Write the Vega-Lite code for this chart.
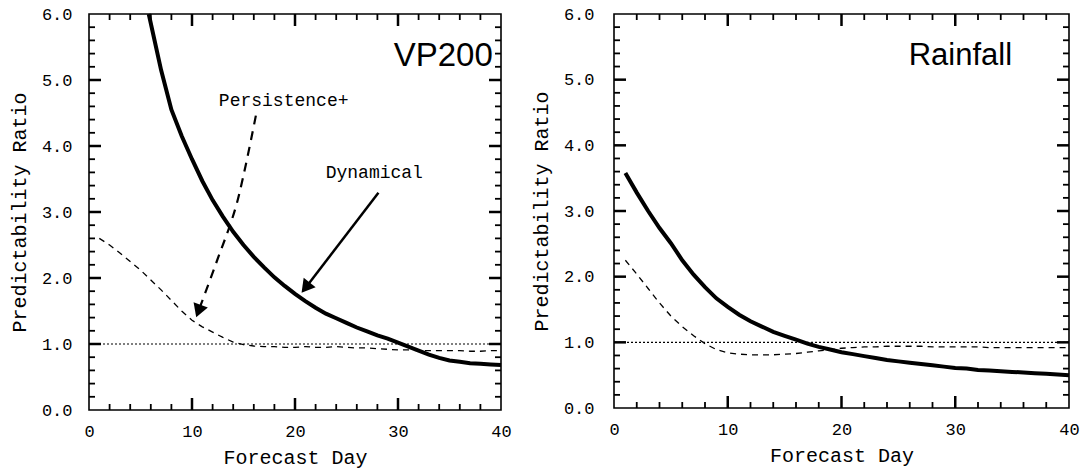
{
  "$schema": "https://vega.github.io/schema/vega-lite/v6.json",
  "background": "white",
  "padding": {"left": 8, "top": 4, "right": 4, "bottom": 2},
  "spacing": 113,
  "bounds": "flush",
  "config": {
    "view": {"stroke": "black", "strokeWidth": 1.6},
    "axis": {
      "grid": false, "domain": false, "ticks": false, "tickSize": 0, "offset": 0,
      "labelColor": "black", "titleColor": "black",
      "labelFont": "Liberation Mono", "titleFont": "Liberation Mono",
      "labelFontSize": 17, "titleFontSize": 20, "titleFontWeight": "normal",
      "labelFlush": false, "labelOverlap": false
    }
  },
  "datasets": {
    "vp200": [
      {"series": "Dynamical", "day": 5.8, "value": 6.0},
      {"series": "Dynamical", "day": 7, "value": 5.15},
      {"series": "Dynamical", "day": 8, "value": 4.55},
      {"series": "Dynamical", "day": 9, "value": 4.15},
      {"series": "Dynamical", "day": 10, "value": 3.8},
      {"series": "Dynamical", "day": 11, "value": 3.47},
      {"series": "Dynamical", "day": 12, "value": 3.18},
      {"series": "Dynamical", "day": 13, "value": 2.93},
      {"series": "Dynamical", "day": 14, "value": 2.7},
      {"series": "Dynamical", "day": 15, "value": 2.5},
      {"series": "Dynamical", "day": 16, "value": 2.32},
      {"series": "Dynamical", "day": 17, "value": 2.16},
      {"series": "Dynamical", "day": 18, "value": 2.01},
      {"series": "Dynamical", "day": 19, "value": 1.88},
      {"series": "Dynamical", "day": 20, "value": 1.76},
      {"series": "Dynamical", "day": 21, "value": 1.65},
      {"series": "Dynamical", "day": 22, "value": 1.55},
      {"series": "Dynamical", "day": 23, "value": 1.46},
      {"series": "Dynamical", "day": 24, "value": 1.39},
      {"series": "Dynamical", "day": 25, "value": 1.32},
      {"series": "Dynamical", "day": 26, "value": 1.25},
      {"series": "Dynamical", "day": 27, "value": 1.19},
      {"series": "Dynamical", "day": 28, "value": 1.13},
      {"series": "Dynamical", "day": 29, "value": 1.08},
      {"series": "Dynamical", "day": 30, "value": 1.02},
      {"series": "Dynamical", "day": 31, "value": 0.96},
      {"series": "Dynamical", "day": 32, "value": 0.9},
      {"series": "Dynamical", "day": 33, "value": 0.84},
      {"series": "Dynamical", "day": 34, "value": 0.79},
      {"series": "Dynamical", "day": 35, "value": 0.75},
      {"series": "Dynamical", "day": 36, "value": 0.73},
      {"series": "Dynamical", "day": 37, "value": 0.71},
      {"series": "Dynamical", "day": 38, "value": 0.7},
      {"series": "Dynamical", "day": 39, "value": 0.69},
      {"series": "Dynamical", "day": 40, "value": 0.68},
      {"series": "Persistence", "day": 1, "value": 2.6},
      {"series": "Persistence", "day": 2, "value": 2.5},
      {"series": "Persistence", "day": 3, "value": 2.38},
      {"series": "Persistence", "day": 4, "value": 2.25},
      {"series": "Persistence", "day": 5, "value": 2.12},
      {"series": "Persistence", "day": 6, "value": 1.97},
      {"series": "Persistence", "day": 7, "value": 1.82},
      {"series": "Persistence", "day": 8, "value": 1.66},
      {"series": "Persistence", "day": 9, "value": 1.5},
      {"series": "Persistence", "day": 10, "value": 1.36},
      {"series": "Persistence", "day": 11, "value": 1.26},
      {"series": "Persistence", "day": 12, "value": 1.18},
      {"series": "Persistence", "day": 13, "value": 1.1},
      {"series": "Persistence", "day": 14, "value": 1.03},
      {"series": "Persistence", "day": 15, "value": 0.99},
      {"series": "Persistence", "day": 16, "value": 0.97},
      {"series": "Persistence", "day": 17, "value": 0.96},
      {"series": "Persistence", "day": 18, "value": 0.96},
      {"series": "Persistence", "day": 19, "value": 0.95},
      {"series": "Persistence", "day": 20, "value": 0.95},
      {"series": "Persistence", "day": 21, "value": 0.96},
      {"series": "Persistence", "day": 22, "value": 0.95},
      {"series": "Persistence", "day": 23, "value": 0.95},
      {"series": "Persistence", "day": 24, "value": 0.96},
      {"series": "Persistence", "day": 25, "value": 0.95},
      {"series": "Persistence", "day": 26, "value": 0.94},
      {"series": "Persistence", "day": 27, "value": 0.94},
      {"series": "Persistence", "day": 28, "value": 0.93},
      {"series": "Persistence", "day": 29, "value": 0.92},
      {"series": "Persistence", "day": 30, "value": 0.91},
      {"series": "Persistence", "day": 31, "value": 0.91},
      {"series": "Persistence", "day": 32, "value": 0.9},
      {"series": "Persistence", "day": 33, "value": 0.9},
      {"series": "Persistence", "day": 34, "value": 0.9},
      {"series": "Persistence", "day": 35, "value": 0.9},
      {"series": "Persistence", "day": 36, "value": 0.9},
      {"series": "Persistence", "day": 37, "value": 0.89},
      {"series": "Persistence", "day": 38, "value": 0.89},
      {"series": "Persistence", "day": 39, "value": 0.9},
      {"series": "Persistence", "day": 40, "value": 0.9}
    ],
    "rain": [
      {"series": "Dynamical", "day": 1, "value": 3.58},
      {"series": "Dynamical", "day": 2, "value": 3.28},
      {"series": "Dynamical", "day": 3, "value": 3.0},
      {"series": "Dynamical", "day": 4, "value": 2.74},
      {"series": "Dynamical", "day": 5, "value": 2.51},
      {"series": "Dynamical", "day": 6, "value": 2.25},
      {"series": "Dynamical", "day": 7, "value": 2.03},
      {"series": "Dynamical", "day": 8, "value": 1.84},
      {"series": "Dynamical", "day": 9, "value": 1.67},
      {"series": "Dynamical", "day": 10, "value": 1.54},
      {"series": "Dynamical", "day": 11, "value": 1.42},
      {"series": "Dynamical", "day": 12, "value": 1.32},
      {"series": "Dynamical", "day": 13, "value": 1.24},
      {"series": "Dynamical", "day": 14, "value": 1.16},
      {"series": "Dynamical", "day": 15, "value": 1.1},
      {"series": "Dynamical", "day": 16, "value": 1.04},
      {"series": "Dynamical", "day": 17, "value": 0.98},
      {"series": "Dynamical", "day": 18, "value": 0.93},
      {"series": "Dynamical", "day": 19, "value": 0.89},
      {"series": "Dynamical", "day": 20, "value": 0.85},
      {"series": "Dynamical", "day": 21, "value": 0.82},
      {"series": "Dynamical", "day": 22, "value": 0.79},
      {"series": "Dynamical", "day": 23, "value": 0.76},
      {"series": "Dynamical", "day": 24, "value": 0.73},
      {"series": "Dynamical", "day": 25, "value": 0.71},
      {"series": "Dynamical", "day": 26, "value": 0.69},
      {"series": "Dynamical", "day": 27, "value": 0.67},
      {"series": "Dynamical", "day": 28, "value": 0.65},
      {"series": "Dynamical", "day": 29, "value": 0.63},
      {"series": "Dynamical", "day": 30, "value": 0.61},
      {"series": "Dynamical", "day": 31, "value": 0.6},
      {"series": "Dynamical", "day": 32, "value": 0.58},
      {"series": "Dynamical", "day": 33, "value": 0.57},
      {"series": "Dynamical", "day": 34, "value": 0.56},
      {"series": "Dynamical", "day": 35, "value": 0.55},
      {"series": "Dynamical", "day": 36, "value": 0.54},
      {"series": "Dynamical", "day": 37, "value": 0.53},
      {"series": "Dynamical", "day": 38, "value": 0.52},
      {"series": "Dynamical", "day": 39, "value": 0.51},
      {"series": "Dynamical", "day": 40, "value": 0.5},
      {"series": "Persistence", "day": 1, "value": 2.25},
      {"series": "Persistence", "day": 2, "value": 2.04},
      {"series": "Persistence", "day": 3, "value": 1.82},
      {"series": "Persistence", "day": 4, "value": 1.6},
      {"series": "Persistence", "day": 5, "value": 1.4},
      {"series": "Persistence", "day": 6, "value": 1.24},
      {"series": "Persistence", "day": 7, "value": 1.1},
      {"series": "Persistence", "day": 8, "value": 0.98},
      {"series": "Persistence", "day": 9, "value": 0.89},
      {"series": "Persistence", "day": 10, "value": 0.84},
      {"series": "Persistence", "day": 11, "value": 0.82},
      {"series": "Persistence", "day": 12, "value": 0.81},
      {"series": "Persistence", "day": 13, "value": 0.81},
      {"series": "Persistence", "day": 14, "value": 0.81},
      {"series": "Persistence", "day": 15, "value": 0.82},
      {"series": "Persistence", "day": 16, "value": 0.83},
      {"series": "Persistence", "day": 17, "value": 0.85},
      {"series": "Persistence", "day": 18, "value": 0.87},
      {"series": "Persistence", "day": 19, "value": 0.89},
      {"series": "Persistence", "day": 20, "value": 0.91},
      {"series": "Persistence", "day": 21, "value": 0.92},
      {"series": "Persistence", "day": 22, "value": 0.93},
      {"series": "Persistence", "day": 23, "value": 0.93},
      {"series": "Persistence", "day": 24, "value": 0.94},
      {"series": "Persistence", "day": 25, "value": 0.94},
      {"series": "Persistence", "day": 26, "value": 0.94},
      {"series": "Persistence", "day": 27, "value": 0.94},
      {"series": "Persistence", "day": 28, "value": 0.93},
      {"series": "Persistence", "day": 29, "value": 0.93},
      {"series": "Persistence", "day": 30, "value": 0.93},
      {"series": "Persistence", "day": 31, "value": 0.93},
      {"series": "Persistence", "day": 32, "value": 0.93},
      {"series": "Persistence", "day": 33, "value": 0.92},
      {"series": "Persistence", "day": 34, "value": 0.92},
      {"series": "Persistence", "day": 35, "value": 0.92},
      {"series": "Persistence", "day": 36, "value": 0.92},
      {"series": "Persistence", "day": 37, "value": 0.92},
      {"series": "Persistence", "day": 38, "value": 0.92},
      {"series": "Persistence", "day": 39, "value": 0.92},
      {"series": "Persistence", "day": 40, "value": 0.92}
    ],
    "refline": [{"value": 1}],
    "xmajor": [{"day": 10}, {"day": 20}, {"day": 30}],
    "xminor": [{"day": 2}, {"day": 4}, {"day": 6}, {"day": 8}, {"day": 12}, {"day": 14}, {"day": 16}, {"day": 18}, {"day": 22}, {"day": 24}, {"day": 26}, {"day": 28}, {"day": 32}, {"day": 34}, {"day": 36}, {"day": 38}],
    "ymajor": [{"value": 1}, {"value": 2}, {"value": 3}, {"value": 4}, {"value": 5}],
    "yminor": [{"value": 0.2}, {"value": 0.4}, {"value": 0.6}, {"value": 0.8}, {"value": 1.2}, {"value": 1.4}, {"value": 1.6}, {"value": 1.8}, {"value": 2.2}, {"value": 2.4}, {"value": 2.6}, {"value": 2.8}, {"value": 3.2}, {"value": 3.4}, {"value": 3.6}, {"value": 3.8}, {"value": 4.2}, {"value": 4.4}, {"value": 4.6}, {"value": 4.8}, {"value": 5.2}, {"value": 5.4}, {"value": 5.6}, {"value": 5.8}],
    "labels": [
      {"label": "VP200", "day": 39.2, "value": 5.36},
      {"label": "Persistence+", "day": 18.9, "value": 4.68},
      {"label": "Dynamical", "day": 27.7, "value": 3.59},
      {"label": "Rainfall", "day": 35.0, "value": 5.36}
    ],
    "arrows": [
      {"arrow": "persistence", "ord": 1, "day": 16.2, "value": 4.46},
      {"arrow": "persistence", "ord": 2, "day": 14.4, "value": 3.16},
      {"arrow": "persistence", "ord": 3, "day": 12.4, "value": 2.25},
      {"arrow": "persistence", "ord": 4, "day": 10.7, "value": 1.53},
      {"arrow": "dynamical", "ord": 1, "day": 28.1, "value": 3.29},
      {"arrow": "dynamical", "ord": 2, "day": 21.16, "value": 1.88}
    ],
    "heads": [
      {"arrow": "persistence", "day": 10.7, "value": 1.53},
      {"arrow": "dynamical", "day": 21.16, "value": 1.88}
    ]
  },
  "hconcat": [
    {
      "width": 412,
      "height": 396,
      "layer": [
        {
          "data": {"name": "vp200"},
          "transform": [{"filter": "datum.series === 'Persistence'"}],
          "mark": {"type": "line", "color": "black", "strokeWidth": 1.3, "strokeDash": [6, 5]},
          "encoding": {
            "x": {"field": "day", "type": "quantitative", "scale": {"domain": [0, 40], "nice": false},
                  "axis": {"orient": "bottom", "values": [0, 10, 20, 30, 40], "title": "Forecast Day", "labelPadding": 13, "titlePadding": 8}},
            "y": {"field": "value", "type": "quantitative", "scale": {"domain": [0, 6], "nice": false},
                  "axis": {"orient": "left", "values": [0, 1, 2, 3, 4, 5, 6], "format": ".1f", "title": "Predictability Ratio", "labelPadding": 17, "titlePadding": 12}}
          }
        },
        {
          "data": {"name": "refline"},
          "mark": {"type": "rule", "color": "black", "strokeWidth": 1.2, "strokeDash": [2, 2]},
          "encoding": {"y": {"field": "value", "type": "quantitative"}}
        },
        {
          "data": {"name": "vp200"},
          "transform": [{"filter": "datum.series === 'Dynamical'"}],
          "mark": {"type": "line", "color": "black", "strokeWidth": 4},
          "encoding": {
            "x": {"field": "day", "type": "quantitative"},
            "y": {"field": "value", "type": "quantitative"}
          }
        },
        {"data": {"name": "xmajor"}, "mark": {"type": "point", "shape": "M0,0L0,-1", "filled": false, "stroke": "black", "strokeWidth": 2.5, "size": 576, "opacity": 1, "strokeOpacity": 1},
         "encoding": {"x": {"field": "day", "type": "quantitative"}, "y": {"value": "height"}}},
        {"data": {"name": "xmajor"}, "mark": {"type": "point", "shape": "M0,0L0,1", "filled": false, "stroke": "black", "strokeWidth": 2.5, "size": 576, "opacity": 1, "strokeOpacity": 1},
         "encoding": {"x": {"field": "day", "type": "quantitative"}, "y": {"value": 0}}},
        {"data": {"name": "xminor"}, "mark": {"type": "point", "shape": "M0,0L0,-1", "filled": false, "stroke": "black", "strokeWidth": 1.8, "size": 144, "opacity": 1, "strokeOpacity": 1},
         "encoding": {"x": {"field": "day", "type": "quantitative"}, "y": {"value": "height"}}},
        {"data": {"name": "xminor"}, "mark": {"type": "point", "shape": "M0,0L0,1", "filled": false, "stroke": "black", "strokeWidth": 1.8, "size": 144, "opacity": 1, "strokeOpacity": 1},
         "encoding": {"x": {"field": "day", "type": "quantitative"}, "y": {"value": 0}}},
        {"data": {"name": "ymajor"}, "mark": {"type": "point", "shape": "M0,0L1,0", "filled": false, "stroke": "black", "strokeWidth": 2.5, "size": 576, "opacity": 1, "strokeOpacity": 1},
         "encoding": {"y": {"field": "value", "type": "quantitative"}, "x": {"value": 0}}},
        {"data": {"name": "ymajor"}, "mark": {"type": "point", "shape": "M0,0L-1,0", "filled": false, "stroke": "black", "strokeWidth": 2.5, "size": 576, "opacity": 1, "strokeOpacity": 1},
         "encoding": {"y": {"field": "value", "type": "quantitative"}, "x": {"value": "width"}}},
        {"data": {"name": "yminor"}, "mark": {"type": "point", "shape": "M0,0L1,0", "filled": false, "stroke": "black", "strokeWidth": 1.8, "size": 144, "opacity": 1, "strokeOpacity": 1},
         "encoding": {"y": {"field": "value", "type": "quantitative"}, "x": {"value": 0}}},
        {"data": {"name": "yminor"}, "mark": {"type": "point", "shape": "M0,0L-1,0", "filled": false, "stroke": "black", "strokeWidth": 1.8, "size": 144, "opacity": 1, "strokeOpacity": 1},
         "encoding": {"y": {"field": "value", "type": "quantitative"}, "x": {"value": "width"}}},
        {
          "data": {"name": "labels"},
          "transform": [{"filter": "datum.label === 'VP200'"}],
          "mark": {"type": "text", "font": "Liberation Sans", "fontSize": 33, "align": "right", "baseline": "middle", "color": "black"},
          "encoding": {
            "x": {"field": "day", "type": "quantitative"},
            "y": {"field": "value", "type": "quantitative"},
            "text": {"field": "label"}
          }
        },
        {
          "data": {"name": "labels"},
          "transform": [{"filter": "datum.label === 'Persistence+' || datum.label === 'Dynamical'"}],
          "mark": {"type": "text", "font": "Liberation Mono", "fontSize": 18, "align": "center", "baseline": "middle", "color": "black"},
          "encoding": {
            "x": {"field": "day", "type": "quantitative"},
            "y": {"field": "value", "type": "quantitative"},
            "text": {"field": "label"}
          }
        },
        {
          "data": {"name": "arrows"},
          "transform": [{"filter": "datum.arrow === 'persistence'"}],
          "mark": {"type": "line", "color": "black", "strokeWidth": 2.2, "strokeDash": [9, 7], "interpolate": "cardinal"},
          "encoding": {
            "x": {"field": "day", "type": "quantitative"},
            "y": {"field": "value", "type": "quantitative"},
            "order": {"field": "ord"}
          }
        },
        {
          "data": {"name": "arrows"},
          "transform": [{"filter": "datum.arrow === 'dynamical'"}],
          "mark": {"type": "line", "color": "black", "strokeWidth": 2.5},
          "encoding": {
            "x": {"field": "day", "type": "quantitative"},
            "y": {"field": "value", "type": "quantitative"},
            "order": {"field": "ord"}
          }
        },
        {
          "data": {"name": "heads"},
          "transform": [{"filter": "datum.arrow === 'persistence'"}],
          "mark": {"type": "point", "shape": "triangle", "filled": true, "color": "black", "size": 230, "angle": 200, "opacity": 1},
          "encoding": {
            "x": {"field": "day", "type": "quantitative"},
            "y": {"field": "value", "type": "quantitative"}
          }
        },
        {
          "data": {"name": "heads"},
          "transform": [{"filter": "datum.arrow === 'dynamical'"}],
          "mark": {"type": "point", "shape": "triangle", "filled": true, "color": "black", "size": 230, "angle": 218, "opacity": 1},
          "encoding": {
            "x": {"field": "day", "type": "quantitative"},
            "y": {"field": "value", "type": "quantitative"}
          }
        }
      ]
    },
    {
      "width": 455,
      "height": 394,
      "layer": [
        {
          "data": {"name": "rain"},
          "transform": [{"filter": "datum.series === 'Persistence'"}],
          "mark": {"type": "line", "color": "black", "strokeWidth": 1.3, "strokeDash": [6, 5]},
          "encoding": {
            "x": {"field": "day", "type": "quantitative", "scale": {"domain": [0, 40], "nice": false},
                  "axis": {"orient": "bottom", "values": [0, 10, 20, 30, 40], "title": "Forecast Day", "labelPadding": 13, "titlePadding": 8}},
            "y": {"field": "value", "type": "quantitative", "scale": {"domain": [0, 6], "nice": false},
                  "axis": {"orient": "left", "values": [0, 1, 2, 3, 4, 5, 6], "format": ".1f", "title": "Predictability Ratio", "labelPadding": 20, "titlePadding": 12}}
          }
        },
        {
          "data": {"name": "refline"},
          "mark": {"type": "rule", "color": "black", "strokeWidth": 1.2, "strokeDash": [2, 2]},
          "encoding": {"y": {"field": "value", "type": "quantitative"}}
        },
        {
          "data": {"name": "rain"},
          "transform": [{"filter": "datum.series === 'Dynamical'"}],
          "mark": {"type": "line", "color": "black", "strokeWidth": 4},
          "encoding": {
            "x": {"field": "day", "type": "quantitative"},
            "y": {"field": "value", "type": "quantitative"}
          }
        },
        {"data": {"name": "xmajor"}, "mark": {"type": "point", "shape": "M0,0L0,-1", "filled": false, "stroke": "black", "strokeWidth": 2.5, "size": 576, "opacity": 1, "strokeOpacity": 1},
         "encoding": {"x": {"field": "day", "type": "quantitative"}, "y": {"value": "height"}}},
        {"data": {"name": "xmajor"}, "mark": {"type": "point", "shape": "M0,0L0,1", "filled": false, "stroke": "black", "strokeWidth": 2.5, "size": 576, "opacity": 1, "strokeOpacity": 1},
         "encoding": {"x": {"field": "day", "type": "quantitative"}, "y": {"value": 0}}},
        {"data": {"name": "xminor"}, "mark": {"type": "point", "shape": "M0,0L0,-1", "filled": false, "stroke": "black", "strokeWidth": 1.8, "size": 144, "opacity": 1, "strokeOpacity": 1},
         "encoding": {"x": {"field": "day", "type": "quantitative"}, "y": {"value": "height"}}},
        {"data": {"name": "xminor"}, "mark": {"type": "point", "shape": "M0,0L0,1", "filled": false, "stroke": "black", "strokeWidth": 1.8, "size": 144, "opacity": 1, "strokeOpacity": 1},
         "encoding": {"x": {"field": "day", "type": "quantitative"}, "y": {"value": 0}}},
        {"data": {"name": "ymajor"}, "mark": {"type": "point", "shape": "M0,0L1,0", "filled": false, "stroke": "black", "strokeWidth": 2.5, "size": 576, "opacity": 1, "strokeOpacity": 1},
         "encoding": {"y": {"field": "value", "type": "quantitative"}, "x": {"value": 0}}},
        {"data": {"name": "ymajor"}, "mark": {"type": "point", "shape": "M0,0L-1,0", "filled": false, "stroke": "black", "strokeWidth": 2.5, "size": 576, "opacity": 1, "strokeOpacity": 1},
         "encoding": {"y": {"field": "value", "type": "quantitative"}, "x": {"value": "width"}}},
        {"data": {"name": "yminor"}, "mark": {"type": "point", "shape": "M0,0L1,0", "filled": false, "stroke": "black", "strokeWidth": 1.8, "size": 144, "opacity": 1, "strokeOpacity": 1},
         "encoding": {"y": {"field": "value", "type": "quantitative"}, "x": {"value": 0}}},
        {"data": {"name": "yminor"}, "mark": {"type": "point", "shape": "M0,0L-1,0", "filled": false, "stroke": "black", "strokeWidth": 1.8, "size": 144, "opacity": 1, "strokeOpacity": 1},
         "encoding": {"y": {"field": "value", "type": "quantitative"}, "x": {"value": "width"}}},
        {
          "data": {"name": "labels"},
          "transform": [{"filter": "datum.label === 'Rainfall'"}],
          "mark": {"type": "text", "font": "Liberation Sans", "fontSize": 31, "align": "right", "baseline": "middle", "color": "black"},
          "encoding": {
            "x": {"field": "day", "type": "quantitative"},
            "y": {"field": "value", "type": "quantitative"},
            "text": {"field": "label"}
          }
        }
      ]
    }
  ]
}
